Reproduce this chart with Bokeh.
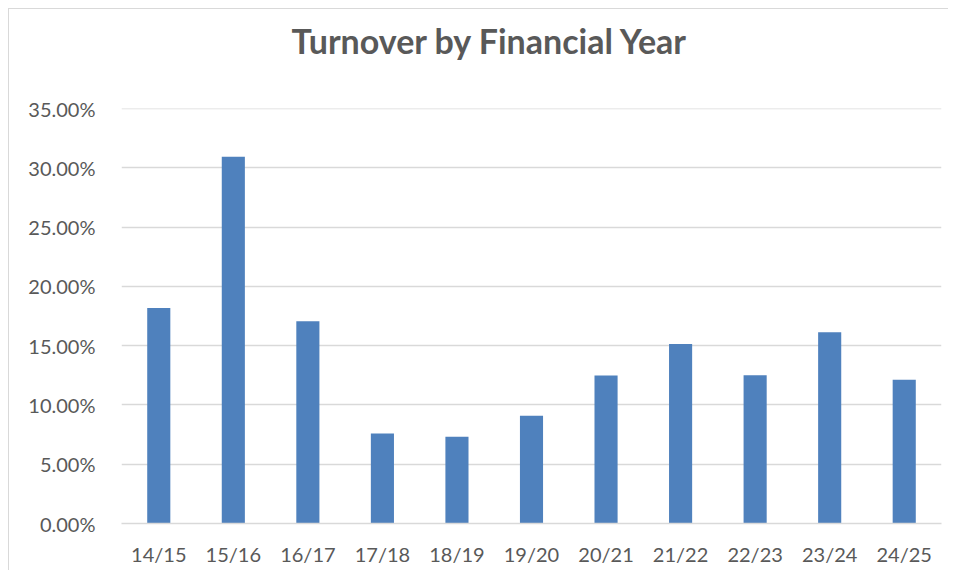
from bokeh.plotting import figure
from bokeh.models import Range1d, FactorRange, NumeralTickFormatter, FixedTicker
from bokeh.embed import file_html
from bokeh.resources import INLINE

years = ["14/15", "15/16", "16/17", "17/18", "18/19", "19/20",
         "20/21", "21/22", "22/23", "23/24", "24/25"]
turnover = [0.1818, 0.3094, 0.1706, 0.0759, 0.0733, 0.0910,
            0.1248, 0.1514, 0.1250, 0.1613, 0.1214]
y_ticks = [0.0, 0.05, 0.10, 0.15, 0.20, 0.25, 0.30, 0.35]
title_text = "Turnover by Financial Year"

FONT = "Lato"
TXT = "#595959"
GRID = "#D9D9D9"

p = figure(width=940, height=562, x_range=FactorRange(*years, range_padding=0),
           y_range=Range1d(0, 0.3502), output_backend="svg", toolbar_location=None,
           min_border_left=112, min_border_right=8, min_border_top=99, min_border_bottom=48)

# trailing empty line acts as a spacer between the title and the plot frame
p.title.text = title_text + "\n"
p.title.align = "left"
p.title.offset = 170
p.title.standoff = 14
p.title.text_line_height = 1.0
p.title.text_font = FONT
p.title.text_font_style = "bold"
p.title.text_font_size = "34px"
p.title.text_color = TXT

p.vbar(x=years, top=turnover, width=0.31, color="#4F81BD", line_color=None)

p.outline_line_color = None
p.xgrid.grid_line_color = None
p.ygrid.grid_line_color = GRID
p.ygrid.grid_line_width = 1.5
p.yaxis.ticker = FixedTicker(ticks=y_ticks)
p.yaxis.formatter = NumeralTickFormatter(format="0.00%")

for ax in (p.xaxis[0], p.yaxis[0]):
    ax.major_tick_line_color = None
    ax.minor_tick_line_color = None
    ax.major_label_text_font = FONT
    ax.major_label_text_font_size = "20px"
    ax.major_label_text_color = TXT
p.yaxis.axis_line_color = None
p.yaxis.major_label_standoff = 20
p.xaxis.axis_line_color = GRID
p.xaxis.axis_line_width = 1.5
p.xaxis.major_label_standoff = 12

p.styles = {"margin-left": "8px", "margin-top": "8px",
            "border-left": "1px solid #D9D9D9", "border-top": "1px solid #D9D9D9"}

open("out.html", "w").write(file_html(p, INLINE))
